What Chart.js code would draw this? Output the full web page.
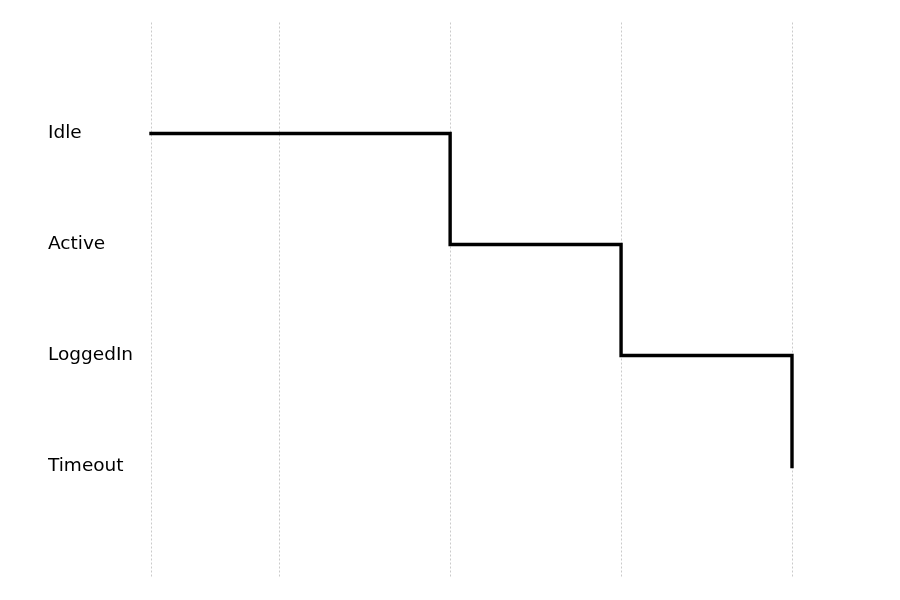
<!DOCTYPE html>
<html>
<head>
<meta charset="utf-8">
<script src="https://cdn.jsdelivr.net/npm/chart.js@4/dist/chart.umd.min.js"></script>
<style>
html,body{margin:0;padding:0;background:#fff;}
#wrap{width:900px;height:600px;position:relative;}
</style>
</head>
<body>
<div id="wrap"><canvas id="c"></canvas></div>
<script>
const states = ['Idle', 'Active', 'LoggedIn', 'Timeout'];
const sequence = ['Idle', 'Active', 'LoggedIn', 'Timeout'];
const times = [0, 7, 11, 15];
const gridTimes = [0, 3, 7, 11, 15];

const points = sequence.map((s, i) => ({ x: times[i], y: states.indexOf(s) }));

new Chart(document.getElementById('c'), {
  type: 'line',
  data: {
    datasets: [{
      data: points,
      borderColor: '#000',
      borderWidth: 3.4,
      stepped: true,
      pointRadius: 0,
      pointHoverRadius: 0,
      fill: false,
      clip: false,
      borderCapStyle: 'square',
      borderJoinStyle: 'miter'
    }]
  },
  options: {
    responsive: true,
    maintainAspectRatio: false,
    animation: false,
    layout: { padding: { left: 48, right: 108, top: 22.5, bottom: 22.5 } },
    plugins: { legend: { display: false }, tooltip: { enabled: false } },
    scales: {
      x: {
        type: 'linear',
        min: 0,
        max: 15,
        z: 1,
        afterBuildTicks: (sc) => { sc.ticks = gridTimes.map(v => ({ value: v })); },
        afterFit: (sc) => { sc.height = 0; },
        ticks: { display: false },
        grid: { color: '#bdbdbd', lineWidth: 0.8, drawTicks: false },
        border: { display: false, dash: [2, 2] }
      },
      y: {
        type: 'linear',
        reverse: true,
        min: -1,
        max: 4,
        afterBuildTicks: (sc) => { sc.ticks = states.map((s, i) => ({ value: i })); },
        afterFit: (sc) => { sc.width = 103; },
        ticks: {
          crossAlign: 'far',
          color: '#000',
          font: { family: 'DejaVu Sans', size: 18.5 },
          callback: (v) => states[v] ?? ''
        },
        grid: { display: false, drawTicks: false },
        border: { display: false }
      }
    }
  }
});
</script>
</body>
</html>
